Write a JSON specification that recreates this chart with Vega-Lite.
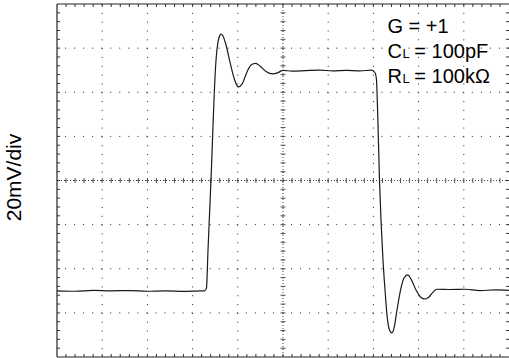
{
  "$schema": "https://vega.github.io/schema/vega-lite/v6.json",
  "width": 452,
  "height": 353,
  "autosize": {"type": "none"},
  "padding": {"left": 57, "top": 4, "right": 0, "bottom": 1},
  "background": "white",
  "config": {
    "view": {"stroke": null},
    "font": "Liberation Sans",
    "axisY": {
      "labels": false, "ticks": false, "domain": false, "grid": false,
      "titlePadding": 33, "titleFontSize": 21, "titleFont": "Liberation Sans",
      "titleFontWeight": "normal", "titleColor": "#000", "titleY": 173
    }
  },
  "datasets": {
    "wave": [
      {"t": 0, "v": -50.0}, {"t": 0.4, "v": -50.2}, {"t": 0.8, "v": -49.8}, {"t": 1.2, "v": -50.0},
      {"t": 1.6, "v": -49.9}, {"t": 2.0, "v": -50.2}, {"t": 2.4, "v": -50.0}, {"t": 2.8, "v": -50.3},
      {"t": 3.1, "v": -50.1}, {"t": 3.27, "v": -50.0}, {"t": 3.307, "v": -48.7}, {"t": 3.341, "v": -31.5},
      {"t": 3.374, "v": -15.6}, {"t": 3.407, "v": 0.2}, {"t": 3.44, "v": 18.3}, {"t": 3.473, "v": 36.5},
      {"t": 3.518, "v": 54.6}, {"t": 3.562, "v": 62.8}, {"t": 3.606, "v": 65.9}, {"t": 3.628, "v": 66.4},
      {"t": 3.673, "v": 65.5}, {"t": 3.739, "v": 61.4}, {"t": 3.827, "v": 53.7}, {"t": 3.916, "v": 46.5},
      {"t": 4.011, "v": 42.4}, {"t": 4.093, "v": 43.7}, {"t": 4.204, "v": 49.2}, {"t": 4.292, "v": 52.4},
      {"t": 4.396, "v": 53.1}, {"t": 4.491, "v": 51.9}, {"t": 4.624, "v": 49.4}, {"t": 4.779, "v": 48.3},
      {"t": 4.889, "v": 48.9}, {"t": 5.0, "v": 49.9}, {"t": 5.2, "v": 49.6}, {"t": 5.5, "v": 49.8},
      {"t": 5.8, "v": 50.0}, {"t": 6.1, "v": 49.7}, {"t": 6.4, "v": 49.9}, {"t": 6.7, "v": 49.7},
      {"t": 6.962, "v": 50.0}, {"t": 7.013, "v": 49.4}, {"t": 7.046, "v": 48.3}, {"t": 7.069, "v": 45.5},
      {"t": 7.086, "v": 36.5}, {"t": 7.102, "v": 25.1}, {"t": 7.135, "v": 0.2}, {"t": 7.168, "v": -17.9},
      {"t": 7.212, "v": -36.0}, {"t": 7.257, "v": -49.6}, {"t": 7.301, "v": -61.0}, {"t": 7.356, "v": -67.8},
      {"t": 7.405, "v": -69.1}, {"t": 7.456, "v": -66.9}, {"t": 7.522, "v": -58.7}, {"t": 7.611, "v": -48.7},
      {"t": 7.677, "v": -44.2}, {"t": 7.759, "v": -42.8}, {"t": 7.832, "v": -44.7}, {"t": 7.942, "v": -49.6},
      {"t": 8.053, "v": -53.0}, {"t": 8.142, "v": -53.7}, {"t": 8.23, "v": -52.8}, {"t": 8.319, "v": -50.6},
      {"t": 8.401, "v": -49.3}, {"t": 8.695, "v": -49.4}, {"t": 9.027, "v": -49.3}, {"t": 9.358, "v": -49.9},
      {"t": 9.69, "v": -49.6}, {"t": 10.0, "v": -49.8}
    ],
    "gridX": [{"t": 1}, {"t": 2}, {"t": 3}, {"t": 4}, {"t": 5}, {"t": 6}, {"t": 7}, {"t": 8}, {"t": 9}],
    "gridY": [{"v": -60}, {"v": -40}, {"v": -20}, {"v": 0}, {"v": 20}, {"v": 40}, {"v": 60}],
    "minorX": [
      {"t": 0.2}, {"t": 0.4}, {"t": 0.6}, {"t": 0.8}, {"t": 1.0}, {"t": 1.2}, {"t": 1.4}, {"t": 1.6}, {"t": 1.8}, {"t": 2.0},
      {"t": 2.2}, {"t": 2.4}, {"t": 2.6}, {"t": 2.8}, {"t": 3.0}, {"t": 3.2}, {"t": 3.4}, {"t": 3.6}, {"t": 3.8}, {"t": 4.0},
      {"t": 4.2}, {"t": 4.4}, {"t": 4.6}, {"t": 4.8}, {"t": 5.0}, {"t": 5.2}, {"t": 5.4}, {"t": 5.6}, {"t": 5.8}, {"t": 6.0},
      {"t": 6.2}, {"t": 6.4}, {"t": 6.6}, {"t": 6.8}, {"t": 7.0}, {"t": 7.2}, {"t": 7.4}, {"t": 7.6}, {"t": 7.8}, {"t": 8.0},
      {"t": 8.2}, {"t": 8.4}, {"t": 8.6}, {"t": 8.8}, {"t": 9.0}, {"t": 9.2}, {"t": 9.4}, {"t": 9.6}, {"t": 9.8}
    ],
    "minorY": [
      {"v": -76}, {"v": -72}, {"v": -68}, {"v": -64}, {"v": -60}, {"v": -56}, {"v": -52}, {"v": -48}, {"v": -44}, {"v": -40},
      {"v": -36}, {"v": -32}, {"v": -28}, {"v": -24}, {"v": -20}, {"v": -16}, {"v": -12}, {"v": -8}, {"v": -4}, {"v": 0},
      {"v": 4}, {"v": 8}, {"v": 12}, {"v": 16}, {"v": 20}, {"v": 24}, {"v": 28}, {"v": 32}, {"v": 36}, {"v": 40},
      {"v": 44}, {"v": 48}, {"v": 52}, {"v": 56}, {"v": 60}, {"v": 64}, {"v": 68}, {"v": 72}, {"v": 76}
    ],
    "bigText": [
      {"t": 7.312, "v": 66.86, "label": "G = +1"},
      {"t": 7.312, "v": 55.52, "label": "C"},
      {"t": 7.905, "v": 55.52, "label": "= 100pF"},
      {"t": 7.312, "v": 44.19, "label": "R"},
      {"t": 7.905, "v": 44.19, "label": "= 100kΩ"}
    ],
    "smallText": [
      {"t": 7.645, "v": 55.52, "label": "L"},
      {"t": 7.645, "v": 44.19, "label": "L"}
    ],
    "one": [{}]
  },
  "layer": [
    {
      "data": {"name": "gridX"},
      "mark": {"type": "rule", "color": "#222", "strokeWidth": 1, "strokeDash": [1, 7.825]},
      "encoding": {
        "x": {"field": "t", "type": "quantitative", "scale": {"domain": [0, 10], "nice": false, "zero": false}, "axis": null}
      }
    },
    {
      "data": {"name": "gridY"},
      "mark": {"type": "rule", "color": "#222", "strokeWidth": 1, "strokeDash": [1, 8.04]},
      "encoding": {
        "y": {"field": "v", "type": "quantitative", "scale": {"domain": [-80, 80], "nice": false}, "title": "20mV/div"}
      }
    },
    {
      "data": {"name": "one"},
      "mark": {"type": "rule", "color": "#444", "strokeWidth": 1, "strokeDash": [1, 2]},
      "encoding": {"x": {"datum": 5, "type": "quantitative", "axis": null}}
    },
    {
      "data": {"name": "one"},
      "mark": {"type": "rule", "color": "#444", "strokeWidth": 1, "strokeDash": [1, 2]},
      "encoding": {"y": {"datum": 0, "type": "quantitative", "title": "20mV/div"}}
    },
    {
      "data": {"name": "minorX"},
      "mark": {"type": "tick", "orient": "vertical", "size": 6, "thickness": 1, "color": "#333", "opacity": 1, "clip": true},
      "encoding": {
        "x": {"field": "t", "type": "quantitative", "axis": null},
        "y": {"datum": -80, "type": "quantitative", "title": "20mV/div"}
      }
    },
    {
      "data": {"name": "minorX"},
      "mark": {"type": "tick", "orient": "vertical", "size": 6, "thickness": 1, "color": "#333", "opacity": 1, "clip": true},
      "encoding": {
        "x": {"field": "t", "type": "quantitative", "axis": null},
        "y": {"datum": 80, "type": "quantitative", "title": "20mV/div"}
      }
    },
    {
      "data": {"name": "minorX"},
      "mark": {"type": "tick", "orient": "vertical", "size": 5, "thickness": 1, "color": "#555", "opacity": 1},
      "encoding": {
        "x": {"field": "t", "type": "quantitative", "axis": null},
        "y": {"datum": 0, "type": "quantitative", "title": "20mV/div"}
      }
    },
    {
      "data": {"name": "minorY"},
      "mark": {"type": "tick", "orient": "horizontal", "size": 6, "thickness": 1, "color": "#333", "opacity": 1, "clip": true},
      "encoding": {
        "x": {"datum": 0, "type": "quantitative", "axis": null},
        "y": {"field": "v", "type": "quantitative", "title": "20mV/div"}
      }
    },
    {
      "data": {"name": "minorY"},
      "mark": {"type": "tick", "orient": "horizontal", "size": 6, "thickness": 1, "color": "#333", "opacity": 1, "clip": true},
      "encoding": {
        "x": {"datum": 10, "type": "quantitative", "axis": null},
        "y": {"field": "v", "type": "quantitative", "title": "20mV/div"}
      }
    },
    {
      "data": {"name": "minorY"},
      "mark": {"type": "tick", "orient": "horizontal", "size": 5, "thickness": 1, "color": "#555", "opacity": 1},
      "encoding": {
        "x": {"datum": 5, "type": "quantitative", "axis": null},
        "y": {"field": "v", "type": "quantitative", "title": "20mV/div"}
      }
    },
    {
      "data": {"name": "one"},
      "mark": {"type": "rule", "color": "#222", "strokeWidth": 1.2},
      "encoding": {"x": {"datum": 0, "type": "quantitative", "axis": null}}
    },
    {
      "data": {"name": "one"},
      "mark": {"type": "rule", "color": "#222", "strokeWidth": 1.2},
      "encoding": {"y": {"datum": 80, "type": "quantitative", "title": "20mV/div"}}
    },
    {
      "data": {"name": "one"},
      "mark": {"type": "rule", "color": "#222", "strokeWidth": 1.2},
      "encoding": {"y": {"datum": -80, "type": "quantitative", "title": "20mV/div"}}
    },
    {
      "data": {"name": "wave"},
      "mark": {"type": "line", "color": "#1a1a1a", "strokeWidth": 1.2, "interpolate": "monotone"},
      "encoding": {
        "x": {"field": "t", "type": "quantitative", "scale": {"domain": [0, 10], "nice": false, "zero": false}, "axis": null},
        "y": {"field": "v", "type": "quantitative", "scale": {"domain": [-80, 80], "nice": false}, "title": "20mV/div"}
      }
    },
    {
      "data": {"name": "bigText"},
      "mark": {"type": "text", "align": "left", "baseline": "alphabetic", "fontSize": 20, "font": "Liberation Sans", "color": "#000"},
      "encoding": {
        "x": {"field": "t", "type": "quantitative", "axis": null},
        "y": {"field": "v", "type": "quantitative", "title": "20mV/div"},
        "text": {"field": "label"}
      }
    },
    {
      "data": {"name": "smallText"},
      "mark": {"type": "text", "align": "left", "baseline": "alphabetic", "fontSize": 13, "font": "Liberation Sans", "color": "#000"},
      "encoding": {
        "x": {"field": "t", "type": "quantitative", "axis": null},
        "y": {"field": "v", "type": "quantitative", "title": "20mV/div"},
        "text": {"field": "label"}
      }
    }
  ]
}
